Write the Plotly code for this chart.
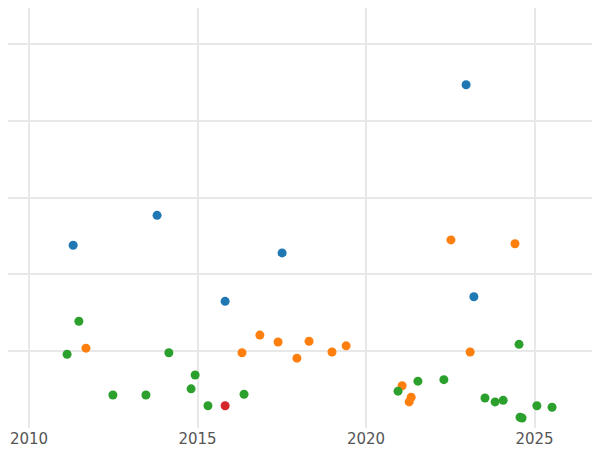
import plotly.graph_objects as go

blue_x = [2011.31, 2013.80, 2015.82, 2017.51, 2022.97, 2023.20]
blue_y = [2.38, 2.77, 1.65, 2.28, 4.47, 1.71]

orange_x = [2011.69, 2016.32, 2016.85, 2017.39, 2017.95, 2018.31, 2018.99, 2019.41,
            2021.07, 2021.28, 2021.34, 2022.52, 2023.09, 2024.42]
orange_y = [1.04, 0.98, 1.21, 1.12, 0.91, 1.13, 0.99, 1.07,
            0.55, 0.34, 0.40, 2.45, 0.99, 2.40]

green_x = [2011.13, 2011.48, 2012.49, 2013.47, 2014.15, 2014.81, 2014.93, 2015.31,
           2016.38, 2020.95, 2021.54, 2022.31, 2023.53, 2023.83, 2024.07, 2024.54,
           2024.57, 2024.63, 2025.07, 2025.52]
green_y = [0.96, 1.39, 0.43, 0.43, 0.98, 0.51, 0.69, 0.29,
           0.44, 0.48, 0.61, 0.63, 0.39, 0.34, 0.36, 1.09,
           0.14, 0.13, 0.29, 0.27]

red_x = [2015.82]
red_y = [0.29]

series = [
    (blue_x, blue_y, "#1f77b4"),
    (orange_x, orange_y, "#ff7f0e"),
    (green_x, green_y, "#2ca02c"),
    (red_x, red_y, "#d62728"),
]

fig = go.Figure()
for xs, ys, color in series:
    fig.add_trace(go.Scatter(x=xs, y=ys, mode="markers",
                             marker=dict(color=color, size=9)))

fig.update_layout(
    width=600, height=450,
    margin=dict(l=0, r=0, t=0, b=30),
    plot_bgcolor="white", paper_bgcolor="white",
    showlegend=False,
    font=dict(family="DejaVu Sans", size=15, color="#555"),
)
fig.update_xaxes(range=[2009.377, 2027.18], tickvals=[2010, 2015, 2020, 2025],
                 showgrid=True, gridcolor="#e8e8e8", gridwidth=2,
                 zeroline=False, showline=False)
fig.update_yaxes(range=[0, 5.47], tickvals=[1, 2, 3, 4, 5], showticklabels=False,
                 showgrid=True, gridcolor="#e8e8e8", gridwidth=2,
                 zeroline=False, showline=False)

fig.write_html("out.html")
